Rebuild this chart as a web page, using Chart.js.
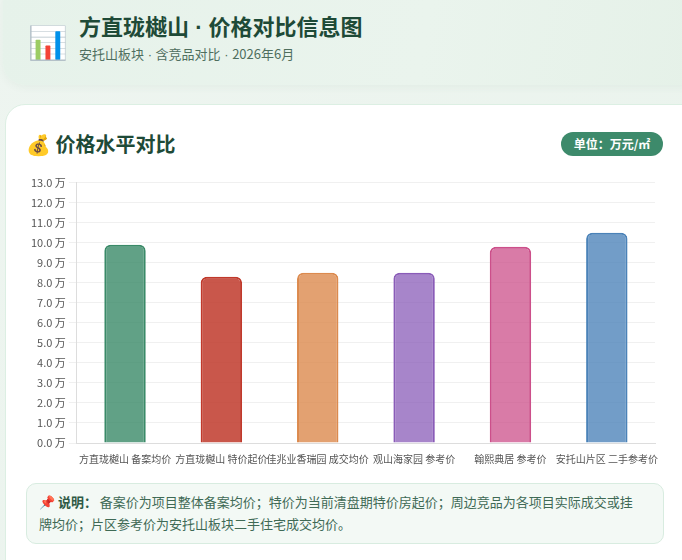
<!DOCTYPE html>
<html lang="zh-CN">
  <head>
    <meta charset="UTF-8" />
    <title>方直珑樾山 · 价格对比信息图</title>
    <style>
      html, body {
        margin: 0;
        padding: 0;
      }
      body {
        width: 682px;
        height: 560px;
        overflow: hidden;
        background: linear-gradient(135deg, #eef5f0 0%, #e9f3ec 100%);
        font-family: "Noto Sans CJK SC", "Noto Sans", sans-serif;
        position: relative;
      }
      .dot {
        font-family: "Liberation Sans", sans-serif;
      }
      .header {
        position: absolute;
        left: 3px;
        top: -20px;
        width: 700px;
        height: 105px;
        border-radius: 22px;
        background: linear-gradient(100deg, #e6f2ea 0%, #eaf4ed 60%, #e5f1e8 100%);
        box-shadow: 0 2px 8px rgba(60, 120, 90, 0.06);
      }
      .header .icon {
        position: absolute;
        left: 25px;
        top: 41px;
        font-size: 32px;
        line-height: 38px;
      }
      .header h1 {
        position: absolute;
        left: 76px;
        top: 29px;
        margin: 0;
        font-size: 22px;
        font-weight: 700;
        color: #1e4a37;
        white-space: nowrap;
      }
      .header .sub {
        position: absolute;
        left: 76px;
        top: 64px;
        font-size: 13px;
        color: #4f6e5e;
        white-space: nowrap;
      }
      .card {
        position: absolute;
        left: 5px;
        top: 104px;
        width: 700px;
        height: 480px;
        background: #fff;
        border: 1px solid #dcefe3;
        border-radius: 20px;
        box-sizing: border-box;
      }
      .card h2 {
        position: absolute;
        left: 20px;
        top: 24px;
        margin: 0;
        font-size: 20px;
        font-weight: 700;
        color: #1e4a37;
        white-space: nowrap;
      }
      .badge {
        position: absolute;
        left: 555px;
        top: 27px;
        width: 102px;
        height: 24px;
        line-height: 24px;
        border-radius: 12px;
        background: #3d8a6b;
        color: #fff;
        font-size: 12px;
        font-weight: 700;
        text-align: center;
      }
      .chart-box {
        position: absolute;
        left: 22px;
        top: 68px;
        width: 640px;
        height: 294px;
      }
      .note {
        position: absolute;
        left: 20px;
        top: 378px;
        width: 638px;
        height: 61px;
        box-sizing: border-box;
        padding: 7px 24px 7px 12px;
        background: #f3f9f5;
        border: 1px solid #d8ece0;
        border-radius: 10px;
        font-size: 13px;
        line-height: 22px;
        color: #3f6a55;
      }
      .note b {
        color: #2f5a45;
      }
    </style>
  </head>
  <body>
    <div class="header">
      <div class="icon">📊</div>
      <h1>方直珑樾山<span class="dot"> · </span>价格对比信息图</h1>
      <div class="sub">安托山板块<span class="dot"> · </span>含竞品对比<span class="dot"> · </span>2026年6月</div>
    </div>

    <div class="card">
      <h2>💰 价格水平对比</h2>
      <div class="badge">单位：万元/㎡</div>
      <div class="chart-box">
        <canvas id="priceChart"></canvas>
      </div>
      <div class="note">
        📌 <b>说明：</b> 备案价为项目整体备案均价；特价为当前清盘期特价房起价；周边竞品为各项目实际成交或挂牌均价；片区参考价为安托山板块二手住宅成交均价。
      </div>
    </div>

    <script src="https://cdn.jsdelivr.net/npm/chart.js@4.4.1/dist/chart.umd.min.js"></script>
    <script>
      // 数据：单位 万元/㎡
      var categories = [
        "方直珑樾山 备案均价",
        "方直珑樾山 特价起价",
        "佳兆业香瑞园 成交均价",
        "观山海家园 参考价",
        "翰熙典居 参考价",
        "安托山片区 二手参考价",
      ];
      var prices = [9.9, 8.3, 8.5, 8.5, 9.8, 10.5];
      var yTicks = { min: 0, max: 13, step: 1 };

      var borderColors = ["#3a8a68", "#c0392b", "#dc8a4e", "#8a5cb8", "#cc4f8a", "#4a82b8"];
      var fillColors = [
        "rgba(58, 138, 104, 0.8)",
        "rgba(192, 57, 43, 0.85)",
        "rgba(220, 138, 78, 0.8)",
        "rgba(138, 92, 184, 0.75)",
        "rgba(204, 79, 138, 0.75)",
        "rgba(74, 130, 184, 0.78)",
      ];

      function createChart() {
        var ctx = document.getElementById("priceChart").getContext("2d");
        new Chart(ctx, {
          type: "bar",
          data: {
            labels: categories,
            datasets: [
              {
                data: prices,
                backgroundColor: fillColors,
                borderColor: borderColors,
                borderWidth: 2,
                borderRadius: 6,
                borderSkipped: "bottom",
                barPercentage: 0.5,
                categoryPercentage: 0.86,
              },
            ],
          },
          options: {
            responsive: true,
            maintainAspectRatio: false,
            animation: false,
            layout: { padding: { top: 8, right: 13 } },
            plugins: {
              legend: { display: false },
              tooltip: { enabled: false },
            },
            scales: {
              x: {
                grid: { display: false },
                border: { color: "#dddddd" },
                ticks: {
                  autoSkip: false,
                  maxRotation: 0,
                  minRotation: 0,
                  color: "#555",
                  padding: 2,
                  font: { size: 10, family: "Noto Sans CJK SC" },
                },
              },
              y: {
                min: yTicks.min,
                max: yTicks.max,
                grid: { color: "#f0f0f0" },
                border: { color: "#dddddd" },
                ticks: {
                  stepSize: yTicks.step,
                  color: "#555",
                  font: { size: 11, family: "Noto Sans CJK SC" },
                  callback: function (v) {
                    return v.toFixed(1) + " 万";
                  },
                },
              },
            },
          },
        });
      }
      createChart();
    </script>
  </body>
</html>
